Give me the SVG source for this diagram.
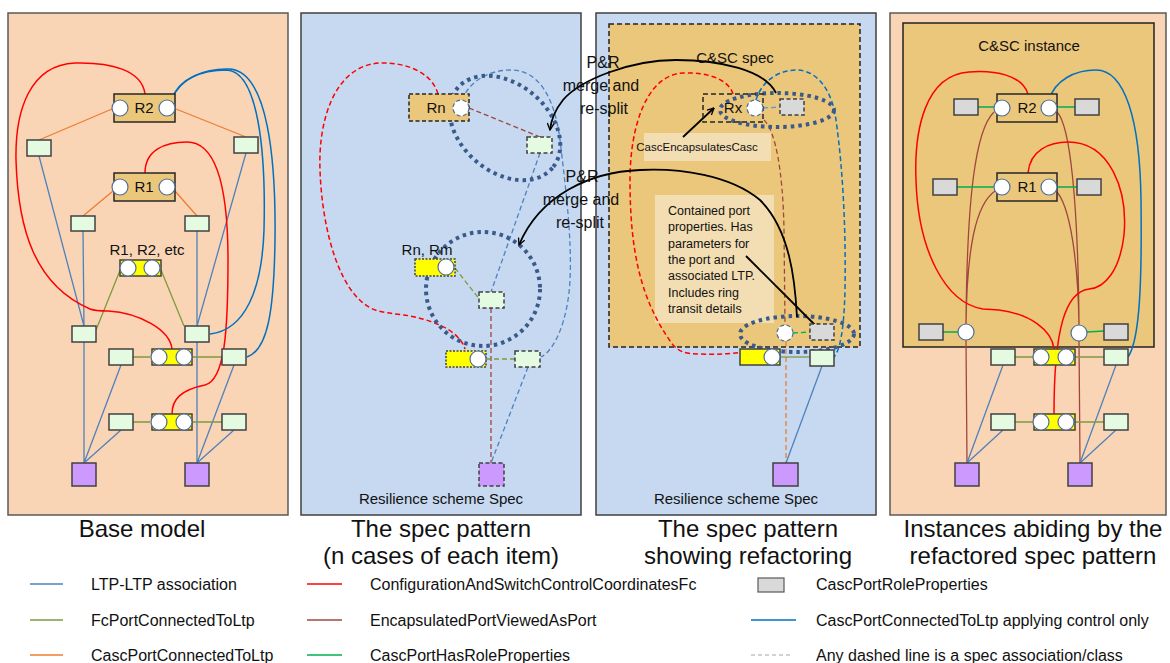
<svg xmlns="http://www.w3.org/2000/svg" width="1170" height="663" viewBox="0 0 1170 663">
<style>
text{font-family:"Liberation Sans",Arial,sans-serif;fill:#111}
.pp{fill:#FAD5B5;stroke:#595959;stroke-width:1.5}
.pb{fill:#C6D9F1;stroke:#404040;stroke-width:1.5}
.gold{fill:#EBC77C;stroke:#262626;stroke-width:1.5}
.ltp{fill:#E4FBE2;stroke:#404040;stroke-width:1.5}
.fc{fill:#FFFF00;stroke:#404040;stroke-width:1.5}
.gnd{fill:#CC99FF;stroke:#404040;stroke-width:1.5}
.role{fill:#D9D9D9;stroke:#404040;stroke-width:1.5}
.port{fill:#fff;stroke:#4F6E96;stroke-width:1.2}
.sd{stroke-dasharray:4 2.5}
.sdot{stroke-dasharray:2 1.5}
.note{fill:#F3DDB2;stroke:none}
.ln{fill:none;stroke-width:1.3}
.ltpL{stroke:#4F81BD}
.fcL{stroke:#7F9A3C}
.cascL{stroke:#ED7D31}
.cfgL{stroke:#FF0000;stroke-width:1.5}
.encL{stroke:#A0463F}
.roleL{stroke:#00B050}
.ctlL{stroke:#0070C0;stroke-width:1.5}
.dash{stroke-dasharray:5 3}
.dots{fill:none;stroke:#3A5A8A;stroke-width:4;stroke-dasharray:3.5 4}
.arr{fill:none;stroke:#000;stroke-width:1.8;marker-end:url(#ah)}
.lbl{font-size:15px;text-anchor:middle}
.ttl{font-size:24px;text-anchor:middle}
.leg{font-size:16px}
.pr{font-size:16px;text-anchor:middle}
</style>
<defs>
<marker id="ah" viewBox="0 0 12 12" refX="11" refY="6" markerWidth="8" markerHeight="8" orient="auto" markerUnits="userSpaceOnUse">
<path d="M1,1 L11,6 L1,11" fill="none" stroke="#000" stroke-width="2"/>
</marker>
</defs>

<!-- Panel backgrounds -->
<g id="panel1"><rect class="pp" x="8" y="13" width="280" height="502"/></g>
<g id="panel2"><rect class="pb" x="301" y="13" width="280" height="502"/></g>
<g id="panel3"><rect class="pb" x="596" y="13" width="280" height="502"/>
<rect x="609" y="24" width="251" height="323" fill="#EBC77C" stroke="#222" stroke-width="1.5" stroke-dasharray="5 3"/>
<text class="lbl" x="735" y="63">C&amp;SC spec</text>
<rect class="note" x="644" y="133" width="127" height="28"/>
<text x="697" y="151" font-size="11.5" text-anchor="middle">CascEncapsulatesCasc</text>
<rect class="note" x="655" y="195" width="119" height="128"/>
<text font-size="12.5"><tspan x="668" y="215">Contained port</tspan><tspan x="668" y="231.3">properties. Has</tspan><tspan x="668" y="247.6">parameters for</tspan><tspan x="668" y="263.9">the port and</tspan><tspan x="668" y="280.2">associated LTP.</tspan><tspan x="668" y="296.5">Includes ring</tspan><tspan x="668" y="312.8">transit details</tspan></text>
</g>
<g id="panel4"><rect class="pp" x="890" y="13" width="276" height="502"/>
<rect x="903" y="23" width="251" height="324" fill="#EBC77C" stroke="#222" stroke-width="1.5"/>
<text class="lbl" x="1029" y="51">C&amp;SC instance</text>
</g>

<!-- Connectors -->
<g id="connectors">
<!-- panel 1 -->
<path class="ln cascL" d="M112,109 L39,140 M176,109 L246,137 M113,191 L83,216 M175,191 L197,216"/>
<path class="ln ltpL" d="M39,156 L84,326 M83,231 L84,326 M84,342 L84,463 M121,365 L84,463 M121,430 L84,463 M246,153 L197,326 M197,231 L197,326 M197,342 L197,463 M234,365 L197,463 M234,430 L197,463"/>
<path class="ln fcL" d="M121,268 L96,330 M161,270 L184,326 M133,357 L150,357 M192,357 L222,357 M133,422 L150,422 M192,422 L222,422"/>
<path class="ln cfgL" d="M145,94 C142,70 110,62 75,63 C30,65 15,110 16,160 C18,230 35,285 90,309 C95,311 100,311 108,311 C140,313 170,330 172,349"/>
<path class="ln cfgL" d="M145,173 C145,150 165,142 187,142 C220,142 228,200 228,260 C228,330 225,380 205,385 C180,390 172,400 172,414"/>
<path class="ln ctlL" d="M172,99 C178,80 200,70 227,70 C258,72 266,150 264,230 C262,290 245,330 210,334"/>
<path class="ln ctlL" d="M172,99 C180,78 205,68 230,69 C268,72 276,160 275,240 C274,310 268,350 247,357"/>
<!-- panel 2 -->
<path class="ln encL dash" d="M469,108 L540,137 M491,308 L491,463"/>
<path class="ln cfgL dash" d="M438,94 C432,72 405,62 380,63 C335,65 318,120 320,170 C322,230 340,300 378,311 C390,314 400,314 410,316 C440,322 460,333 465,349"/>
<path class="ln ltpL dash" d="M462,100 C470,80 490,70 511,70 C540,70 555,100 560,140 C566,190 572,240 570,280 C568,320 555,350 541,357 M540,153 L491,292 M528,367 L491,463"/>
<path class="ln fcL dash" d="M455,268 L480,300 M486,359 L515,359"/>
<!-- panel 3 -->
<path class="ln cfgL dash" d="M733,94 C728,78 705,72 683,73 C645,75 630,130 630,180 C630,250 640,300 673,345 C680,352 685,354 700,354 C730,355 750,352 762,348"/>
<path class="ln encL dash" d="M764,120 C775,130 783,170 784,230 L785,325"/>
<path class="ln cascL dash" d="M786,341 L786,463"/>
<path class="ln ctlL dash" stroke-width="1.3" d="M756,100 C762,80 780,70 796,70 C820,70 833,95 836,120 C843,170 846,230 845,290 C844,330 840,350 834,357"/>
<path class="ln dash" stroke="#5B9BD5" d="M763,108 L780,107"/>
<path class="ln roleL dash" d="M793,333 L810,332"/>
<path class="ln fcL" d="M780,357 L810,357"/>
<path class="ln ltpL" d="M822,366 L786,463"/>
<!-- panel 4 -->
<path class="ln encL" stroke-width="1.6" d="M994,112 C975,130 967,200 966,324 M995,191 C975,205 967,250 966,324 M1057,112 C1070,125 1078,200 1079,325 M1056,191 C1070,205 1078,260 1079,325 M966,340 L967,463 M1079,341 L1080,463"/>
<path class="ln roleL" stroke-width="1.6" d="M978,107 L994,107 M1057,107 L1075,107 M957,187 L994,187 M1057,187 L1077,187 M943,332 L958,332 M1087,332 L1104,331"/>
<path class="ln ltpL" d="M1003,365 L967,463 M1003,430 L967,463 M1116,365 L1080,463 M1116,430 L1080,463"/>
<path class="ln fcL" d="M1015,357 L1033,357 M1074,357 L1104,357 M1015,422 L1033,422 M1074,422 L1104,422"/>
<path class="ln cfgL" d="M1028,94 C1022,75 995,70 969,72 C925,75 914,130 916,180 C918,250 945,303 983,309 L999,310 C1030,314 1052,330 1054,349"/>
<path class="ln cfgL" d="M1028,173 C1030,150 1050,142 1068,142 C1110,142 1128,190 1124,235 C1120,270 1105,288 1089,289 C1065,292 1054,330 1054,414"/>
<path class="ln ctlL" d="M1049,100 C1055,80 1075,70 1096,70 C1125,70 1140,120 1141,200 C1142,280 1140,340 1128,357"/>
<!-- dotted groupings -->
<ellipse class="dots" cx="505" cy="128" rx="62" ry="44" transform="rotate(40 505 128)"/>
<circle class="dots" cx="483" cy="289" r="57"/>
<ellipse class="dots" cx="777" cy="110" rx="57" ry="17"/>
<ellipse class="dots" cx="797" cy="334" rx="57" ry="18"/>
<!-- P&R arrows -->
<path class="arr" d="M776,93 C765,70 720,60 676,60 C630,60 580,80 563,100 C555,110 551,120 550,130"/>
<path class="arr" d="M797,317 C795,280 790,230 760,200 C730,175 680,168 640,170 C590,172 540,195 519,245"/>
<path class="arr" d="M683,137 L714,108"/>
<path class="arr" d="M746,256 L820,330"/>
</g>

<!-- Panel 1 nodes -->
<g id="p1-R2"><rect class="gold" x="114" y="94" width="61" height="28"/><circle class="port" cx="120" cy="108" r="8"/><circle class="port" cx="167" cy="108" r="8"/><text class="lbl" x="144" y="113">R2</text></g>
<g id="p1-R1"><rect class="gold" x="114" y="173" width="61" height="28"/><circle class="port" cx="120" cy="187" r="8"/><circle class="port" cx="167" cy="187" r="8"/><text class="lbl" x="144" y="192">R1</text></g>
<g id="p1-ltps">
<rect class="ltp" x="27" y="140" width="24" height="16"/><rect class="ltp" x="234" y="137" width="24" height="16"/>
<rect class="ltp" x="71" y="216" width="24" height="15"/><rect class="ltp" x="185" y="216" width="24" height="15"/>
<rect class="ltp" x="72" y="326" width="24" height="16"/><rect class="ltp" x="185" y="326" width="24" height="16"/>
<rect class="ltp" x="109" y="349" width="24" height="16"/><rect class="ltp" x="222" y="349" width="24" height="16"/>
<rect class="ltp" x="109" y="414" width="24" height="16"/><rect class="ltp" x="222" y="414" width="24" height="16"/>
</g>
<g id="p1-fc0"><text class="lbl" x="147" y="255" font-size="15.5">R1, R2, etc</text><rect class="fc" x="120" y="260" width="41" height="16"/><circle class="port" cx="128" cy="268" r="8"/><circle class="port" cx="152" cy="268" r="8"/></g>
<g id="p1-fc1"><rect class="fc" x="152" y="349" width="40" height="16"/><circle class="port" cx="159" cy="357" r="8"/><circle class="port" cx="184" cy="357" r="8"/></g>
<g id="p1-fc2"><rect class="fc" x="152" y="414" width="40" height="16"/><circle class="port" cx="159" cy="422" r="8"/><circle class="port" cx="184" cy="422" r="8"/></g>
<g id="p1-gnd"><rect class="gnd" x="72" y="463" width="24" height="23"/><rect class="gnd" x="185" y="463" width="24" height="23"/></g>

<!-- Panel 2 nodes -->
<g id="p2-Rn"><rect class="gold sd" x="409" y="94" width="60" height="27"/><text class="lbl" x="436" y="113">Rn</text><circle class="port sd" cx="461" cy="108" r="8" stroke="#fff"/></g>
<g id="p2-ltp1"><rect class="ltp sd" x="527" y="137" width="25" height="16"/></g>
<g id="p2-RnRm"><text class="lbl" x="427" y="255">Rn, Rm</text><rect class="fc sdot" x="415" y="259" width="40" height="17"/><circle class="port" cx="446" cy="267" r="8" stroke="#fff"/></g>
<g id="p2-ltp2"><rect class="ltp sd" x="479" y="292" width="25" height="16"/></g>
<g id="p2-fc"><rect class="fc sdot" x="446" y="351" width="40" height="16"/><circle class="port" cx="478" cy="359" r="8" stroke="#fff"/></g>
<g id="p2-ltp3"><rect class="ltp sd" x="515" y="351" width="25" height="16"/></g>
<g id="p2-gnd"><rect class="gnd sd" x="479" y="463" width="25" height="23"/></g>
<text class="lbl" x="441" y="504" font-size="15.5">Resilience scheme Spec</text>

<!-- Panel 3 nodes -->
<g id="p3-Rx"><rect x="703" y="94" width="60" height="28" fill="none" stroke="#262626" stroke-width="1.5" stroke-dasharray="5 3"/><text class="lbl" x="733" y="113">Rx</text><circle class="port sd" cx="755" cy="108" r="8" stroke="#ddd"/></g>
<g id="p3-role1"><rect class="role sd" x="780" y="99" width="24" height="16"/></g>
<g id="p3-port2"><circle class="port sd" cx="785" cy="333" r="8" stroke="#ddd"/></g>
<g id="p3-role2"><rect class="role sd" x="810" y="324" width="24" height="16"/></g>
<g id="p3-fc"><rect class="fc" x="740" y="349" width="40" height="16"/><circle class="port" cx="772" cy="357" r="8"/></g>
<g id="p3-ltp"><rect class="ltp" x="810" y="350" width="24" height="16"/></g>
<g id="p3-gnd"><rect class="gnd" x="773" y="463" width="25" height="23"/></g>
<text class="lbl" x="736" y="504" font-size="15.5">Resilience scheme Spec</text>
<g id="pr-labels">
<text class="pr"><tspan x="603" y="68">P&amp;R</tspan><tspan x="601" y="91">merge and</tspan><tspan x="604" y="114">re-split</tspan></text>
<text class="pr"><tspan x="582" y="182">P&amp;R</tspan><tspan x="581" y="205">merge and</tspan><tspan x="580" y="228">re-split</tspan></text>
</g>

<!-- Panel 4 nodes -->
<g id="p4-R2"><rect class="gold" x="997" y="94" width="60" height="28"/><circle class="port" cx="1002" cy="108" r="8"/><circle class="port" cx="1049" cy="108" r="8"/><text class="lbl" x="1027" y="113">R2</text></g>
<g id="p4-R1"><rect class="gold" x="997" y="173" width="60" height="28"/><circle class="port" cx="1002" cy="187" r="8"/><circle class="port" cx="1049" cy="187" r="8"/><text class="lbl" x="1027" y="192">R1</text></g>
<g id="p4-roles"><rect class="role" x="954" y="99" width="24" height="16"/><rect class="role" x="1075" y="99" width="24" height="16"/><rect class="role" x="933" y="179" width="24" height="16"/><rect class="role" x="1077" y="179" width="24" height="16"/><rect class="role" x="919" y="324" width="24" height="16"/><rect class="role" x="1104" y="324" width="24" height="16"/></g>
<g id="p4-ports"><circle class="port" cx="966" cy="332" r="8"/><circle class="port" cx="1079" cy="333" r="8"/></g>
<g id="p4-ltps"><rect class="ltp" x="991" y="349" width="24" height="16"/><rect class="ltp" x="1104" y="349" width="24" height="16"/><rect class="ltp" x="991" y="414" width="24" height="16"/><rect class="ltp" x="1104" y="414" width="24" height="16"/></g>
<g id="p4-fc1"><rect class="fc" x="1034" y="349" width="41" height="16"/><circle class="port" cx="1041" cy="357" r="8"/><circle class="port" cx="1066" cy="357" r="8"/></g>
<g id="p4-fc2"><rect class="fc" x="1034" y="414" width="41" height="16"/><circle class="port" cx="1041" cy="422" r="8"/><circle class="port" cx="1066" cy="422" r="8"/></g>
<g id="p4-gnd"><rect class="gnd" x="955" y="463" width="24" height="23"/><rect class="gnd" x="1068" y="463" width="24" height="23"/></g>

<!-- Titles -->
<g id="titles">
<text class="ttl" x="142" y="537">Base model</text>
<text class="ttl" x="441" y="537">The spec pattern</text>
<text class="ttl" x="441" y="564">(n cases of each item)</text>
<text class="ttl" x="748" y="537">The spec pattern</text>
<text class="ttl" x="748" y="564">showing refactoring</text>
<text class="ttl" x="1033" y="537">Instances abiding by the</text>
<text class="ttl" x="1033" y="564">refactored spec pattern</text>
</g>

<!-- Legend -->
<g id="legend">
<line x1="30" y1="584" x2="63" y2="584" stroke="#4F81BD" stroke-width="1.5"/><text class="leg" x="91" y="590">LTP-LTP association</text>
<line x1="30" y1="620" x2="63" y2="620" stroke="#7F9A3C" stroke-width="1.5"/><text class="leg" x="91" y="626">FcPortConnectedToLtp</text>
<line x1="30" y1="655" x2="63" y2="655" stroke="#ED7D31" stroke-width="1.5"/><text class="leg" x="91" y="661">CascPortConnectedToLtp</text>
<line x1="307" y1="584" x2="342" y2="584" stroke="#FF0000" stroke-width="1.5"/><text class="leg" x="370" y="590">ConfigurationAndSwitchControlCoordinatesFc</text>
<line x1="307" y1="620" x2="342" y2="620" stroke="#A0463F" stroke-width="1.5"/><text class="leg" x="370" y="626">EncapsulatedPortViewedAsPort</text>
<line x1="307" y1="655" x2="342" y2="655" stroke="#00B050" stroke-width="1.5"/><text class="leg" x="370" y="661">CascPortHasRoleProperties</text>
<rect x="758" y="578" width="26" height="14" fill="#D9D9D9" stroke="#595959" stroke-width="1.2"/><text class="leg" x="816" y="590">CascPortRoleProperties</text>
<line x1="751" y1="620" x2="796" y2="620" stroke="#0070C0" stroke-width="1.5"/><text class="leg" x="816" y="626">CascPortConnectedToLtp applying control only</text>
<line x1="751" y1="655" x2="793" y2="655" stroke="#A6A6A6" stroke-width="1.2" stroke-dasharray="4 3"/><text class="leg" x="816" y="661">Any dashed line is a spec association/class</text>
</g>
</svg>
